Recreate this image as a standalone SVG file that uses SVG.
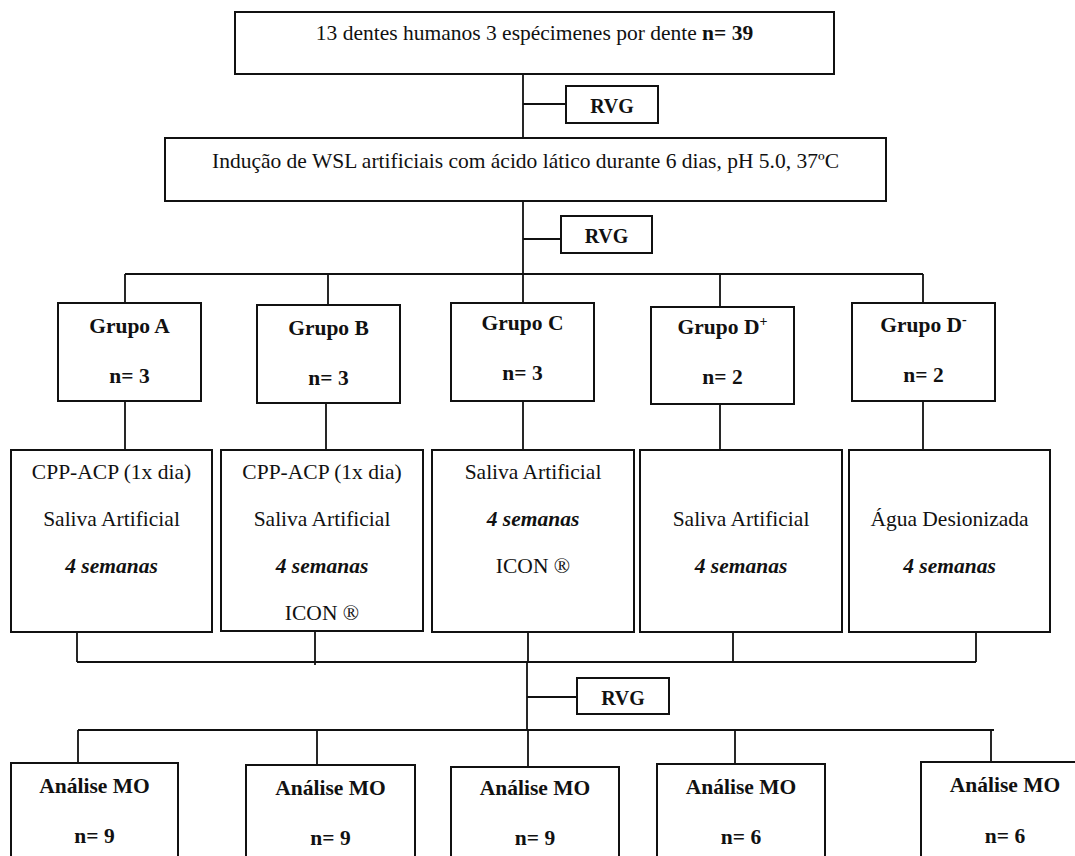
<svg xmlns="http://www.w3.org/2000/svg" width="1075" height="856" viewBox="0 0 1075 856">
<style>
  .box { fill: #ffffff; stroke: #111111; stroke-width: 2; }
  .ln { fill: none; stroke: #111111; stroke-width: 1.8; }
  text { font-family: 'Liberation Serif', 'Times New Roman', serif; font-size: 21.5px; fill: #111111; text-anchor: middle; }
  .b { font-weight: bold; }
  .bi { font-weight: bold; font-style: italic; }
  .rvg { font-weight: bold; font-size: 20px; }
  .sup { font-size: 14px; }
</style>
<rect width="1075" height="856" fill="#ffffff"/>

<g id="connectors">
  <path class="ln" d="M523,74 V138 M523,104 H566"/>
  <path class="ln" d="M523,201 V274 M523,239 H561"/>
  <path class="ln" d="M125,274 H923"/>
  <path class="ln" d="M125,274 V303 M328,274 V305 M523,274 V303 M720,274 V307 M923,274 V303"/>
  <path class="ln" d="M125,401 V450 M326,403 V450 M523,401 V450 M720,404 V450 M923,401 V450"/>
  <path class="ln" d="M77,632 V662 M315,631 V665 M528,632 V662 M733,629 V662 M976,632 V662"/>
  <path class="ln" d="M77,662 H976"/>
  <path class="ln" d="M527,662 V730 M527,697 H577"/>
  <path class="ln" d="M78,730 H994"/>
  <path class="ln" d="M78,730 V763 M317,730 V765 M528,730 V767 M735,730 V764 M991,730 V762"/>
</g>

<g id="node-top">
  <rect class="box" x="235" y="12" width="599" height="62"/>
  <text x="534.5" y="40">13 dentes humanos 3 espécimenes por dente <tspan class="b">n= 39</tspan></text>
</g>

<g id="node-rvg1">
  <rect class="box" x="566" y="86" width="92" height="37"/>
  <text class="rvg" x="612" y="113">RVG</text>
</g>

<g id="node-inducao">
  <rect class="box" x="165" y="138" width="721" height="63"/>
  <text x="525.5" y="168">Indução de WSL artificiais com ácido lático durante 6 dias, pH 5.0, 37ºC</text>
</g>

<g id="node-rvg2">
  <rect class="box" x="561" y="216" width="91" height="37"/>
  <text class="rvg" x="606.5" y="243">RVG</text>
</g>

<g id="node-grupo-a">
  <rect class="box" x="58" y="303" width="143" height="98"/>
  <text class="b" x="129.5" y="333">Grupo A</text>
  <text class="b" x="129.5" y="383">n= 3</text>
</g>

<g id="node-grupo-b">
  <rect class="box" x="257" y="305" width="143" height="98"/>
  <text class="b" x="328.5" y="335">Grupo B</text>
  <text class="b" x="328.5" y="385">n= 3</text>
</g>

<g id="node-grupo-c">
  <rect class="box" x="451" y="303" width="143" height="98"/>
  <text class="b" x="522.5" y="330">Grupo C</text>
  <text class="b" x="522.5" y="380">n= 3</text>
</g>

<g id="node-grupo-dplus">
  <rect class="box" x="651" y="307" width="143" height="97"/>
  <text class="b" x="722.5" y="334">Grupo D<tspan class="sup" dy="-8">+</tspan></text>
  <text class="b" x="722.5" y="384">n= 2</text>
</g>

<g id="node-grupo-dminus">
  <rect class="box" x="852" y="303" width="143" height="98"/>
  <text class="b" x="923.5" y="332">Grupo D<tspan class="sup" dy="-8">-</tspan></text>
  <text class="b" x="923.5" y="382">n= 2</text>
</g>

<g id="node-trat-a">
  <rect class="box" x="11" y="450" width="201" height="182"/>
  <text x="111.5" y="479">CPP-ACP (1x dia)</text>
  <text x="111.5" y="526">Saliva Artificial</text>
  <text class="bi" x="111.5" y="573">4 semanas</text>
</g>

<g id="node-trat-b">
  <rect class="box" x="221" y="450" width="202" height="181"/>
  <text x="322" y="479">CPP-ACP (1x dia)</text>
  <text x="322" y="526">Saliva Artificial</text>
  <text class="bi" x="322" y="573">4 semanas</text>
  <text x="322" y="620">ICON ®</text>
</g>

<g id="node-trat-c">
  <rect class="box" x="432" y="450" width="202" height="182"/>
  <text x="533" y="479">Saliva Artificial</text>
  <text class="bi" x="533" y="526">4 semanas</text>
  <text x="533" y="573">ICON ®</text>
</g>

<g id="node-trat-dplus">
  <rect class="box" x="640" y="450" width="202" height="182"/>
  <text x="741" y="526">Saliva Artificial</text>
  <text class="bi" x="741" y="573">4 semanas</text>
</g>

<g id="node-trat-dminus">
  <rect class="box" x="849" y="450" width="201" height="182"/>
  <text x="949.5" y="526">Água Desionizada</text>
  <text class="bi" x="949.5" y="573">4 semanas</text>
</g>

<g id="node-rvg3">
  <rect class="box" x="577" y="678" width="92" height="36"/>
  <text class="rvg" x="623" y="705">RVG</text>
</g>

<g id="node-mo-1">
  <rect class="box" x="11" y="763" width="167" height="120"/>
  <text class="b" x="94.5" y="793">Análise MO</text>
  <text class="b" x="94.5" y="843">n= 9</text>
</g>

<g id="node-mo-2">
  <rect class="box" x="246" y="765" width="169" height="120"/>
  <text class="b" x="330.5" y="795">Análise MO</text>
  <text class="b" x="330.5" y="845">n= 9</text>
</g>

<g id="node-mo-3">
  <rect class="box" x="451" y="767" width="168" height="120"/>
  <text class="b" x="535" y="795">Análise MO</text>
  <text class="b" x="535" y="845">n= 9</text>
</g>

<g id="node-mo-4">
  <rect class="box" x="657" y="764" width="168" height="120"/>
  <text class="b" x="741" y="794">Análise MO</text>
  <text class="b" x="741" y="844">n= 6</text>
</g>

<g id="node-mo-5">
  <rect class="box" x="921" y="762" width="168" height="120"/>
  <text class="b" x="1005" y="792">Análise MO</text>
  <text class="b" x="1005" y="843">n= 6</text>
</g>
</svg>
